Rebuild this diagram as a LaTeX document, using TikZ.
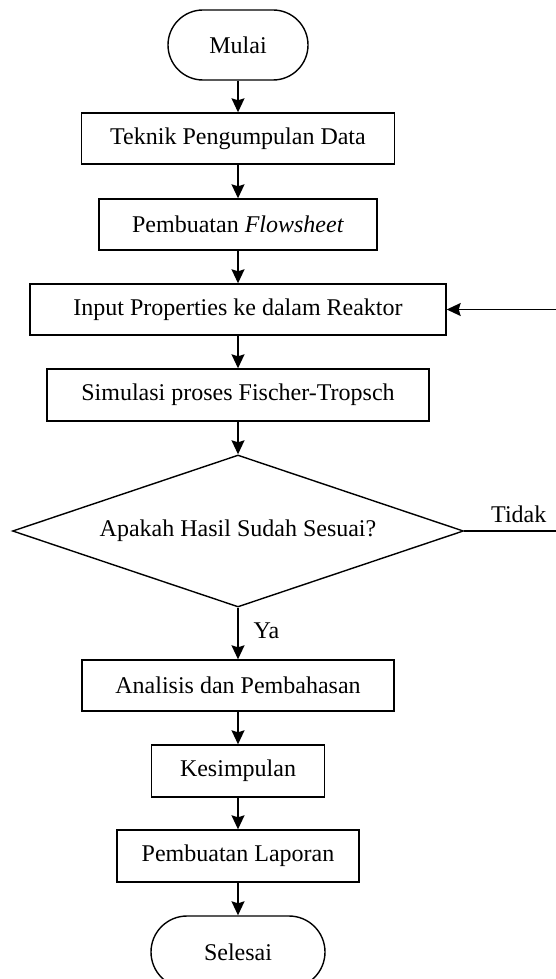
\documentclass[tikz,border=0pt]{standalone}
\usepackage{fontspec}
\setmainfont{Liberation Serif}
\usetikzlibrary{shapes.geometric,arrows.meta}
\begin{document}
\begin{tikzpicture}[x=1pt,y=-1pt,
  every node/.style={font=\fontsize{24}{28}\selectfont, inner sep=0pt},
  procbox/.style={draw, line width=1.4pt, rectangle},
  term/.style={draw, line width=1.4pt, rectangle, rounded corners=35pt},
  decide/.style={draw, line width=1.4pt, diamond, aspect=2.97, minimum width=451pt, minimum height=152pt},
  flow/.style={line width=1.4pt, -{Stealth[length=14pt,width=13pt,inset=2pt]}},
  plain/.style={line width=1.4pt}]
\useasboundingbox (0,0) rectangle (556,979);
\node[term, minimum width=140pt, minimum height=70pt] (mulai) at (238,45) {Mulai};
\node[procbox, minimum width=313pt, minimum height=51pt] (b1) at (238,138.5) {Teknik Pengumpulan Data};
\node[procbox, minimum width=278pt, minimum height=51pt] (b2) at (238,224.5) {Pembuatan \textit{Flowsheet}};
\node[procbox, minimum width=416pt, minimum height=51pt] (b3) at (238,309.5) {Input Properties ke dalam Reaktor};
\node[procbox, minimum width=382pt, minimum height=52pt] (b4) at (238,395) {Simulasi proses Fischer-Tropsch};
\node[decide] (d) at (238,531) {Apakah Hasil Sudah Sesuai?};
\node[procbox, minimum width=312pt, minimum height=51pt] (b5) at (238,685.5) {Analisis dan Pembahasan};
\node[procbox, minimum width=173pt, minimum height=52pt] (b6) at (238,771) {Kesimpulan};
\node[procbox, minimum width=242pt, minimum height=52pt] (b7) at (238,856) {Pembuatan Laporan};
\node[term, minimum width=174pt, minimum height=72pt, rounded corners=36pt] (selesai) at (238,952) {Selesai};
\coordinate (r1) at (562,531);
\coordinate (r2) at (562,309.5);
\draw[flow] (mulai) -- (b1);
\draw[flow] (b1) -- (b2);
\draw[flow] (b2) -- (b3);
\draw[flow] (b3) -- (b4);
\draw[flow] (b4) -- (d);
\draw[flow] (d) -- node[pos=0.45, right=15pt, anchor=west] (ya) {Ya} (b5);
\draw[flow] (b5) -- (b6);
\draw[flow] (b6) -- (b7);
\draw[flow] (b7) -- (selesai);
\draw[plain] (d.east) -- (r1);
\node[anchor=base west] (tidak) at (491,522) {Tidak};
\draw[flow] (r1) -- (r2) -- (b3.east);
\end{tikzpicture}
\end{document}
